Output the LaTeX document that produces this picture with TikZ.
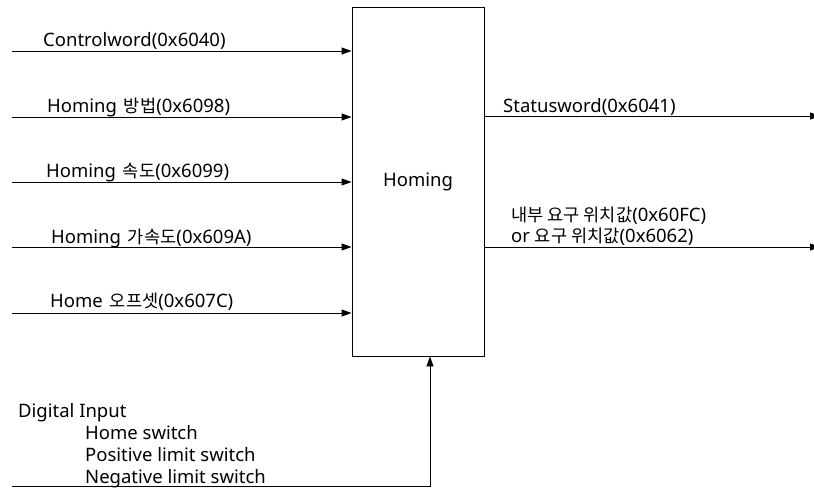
\documentclass[tikz,border=0pt]{standalone}
\usepackage{fontspec}
\setmainfont{Noto Sans}
\newfontfamily\kr[Scale=0.95]{Noto Sans CJK KR}
\usetikzlibrary{arrows.meta}
\begin{document}
\begin{tikzpicture}[x=1pt,y=-1pt,
  lbl/.style={anchor=base west,inner sep=0pt,font=\fontsize{18.5}{22}\selectfont},
  conn/.style={draw=black,line width=0.9pt,-{Triangle[length=10pt,width=7pt]}},
  blk/.style={draw=black,line width=0.9pt,minimum width=132pt,minimum height=349pt,inner sep=0pt,font=\fontsize{18.5}{22}\selectfont}]
\useasboundingbox (0,0) rectangle (814,488);
\clip (0,0) rectangle (814,488);
\node[blk] (box) at (418,181.5) {Homing};
% inputs
\coordinate (i1) at (12,51);
\coordinate (i2) at (12,117);
\coordinate (i3) at (12,182);
\coordinate (i4) at (12,247);
\coordinate (i5) at (12,313);
\foreach \n in {i1,i2,i3,i4,i5}{\draw[conn] (\n) -- (\n -| box.west);}
\node[lbl] (t1) at (43,46) {Controlword(0x6040)};
\node[lbl] (t2) at (47,112) {Homing\hspace{7pt}{\kr 방법}(0x6098)};
\node[lbl] (t3) at (46,177) {Homing\hspace{7pt}{\kr 속도}(0x6099)};
\node[lbl] (t4) at (51,243) {Homing\hspace{7pt}{\kr 가속도}(0x609A)};
\node[lbl] (t5) at (50,307) {Home\hspace{7pt}{\kr 오프셋}(0x607C)};
% outputs
\coordinate (o1) at (820,116);
\coordinate (o2) at (820,247);
\draw[conn] (box.east |- o1) -- (o1);
\draw[conn] (box.east |- o2) -- (o2);
\node[lbl] (s1) at (503,112) {Statusword(0x6041)};
\node[lbl] (s2) at (511,221) {{\kr 내부 요구 위치값}(0x60FC)};
\node[lbl] (s3) at (511,242) {or {\kr 요구 위치값}(0x6062)};
% digital input
\coordinate (d0) at (12,486);
\coordinate (d1) at (430,486);
\draw[conn] (d0) -- (d1) -- (d1 |- box.south);
\node[lbl] (g1) at (18,417) {Digital Input};
\node[lbl] (g2) at (85,439) {Home switch};
\node[lbl] (g3) at (85,461) {Positive limit switch};
\node[lbl] (g4) at (85,483) {Negative limit switch};
\end{tikzpicture}
\end{document}
